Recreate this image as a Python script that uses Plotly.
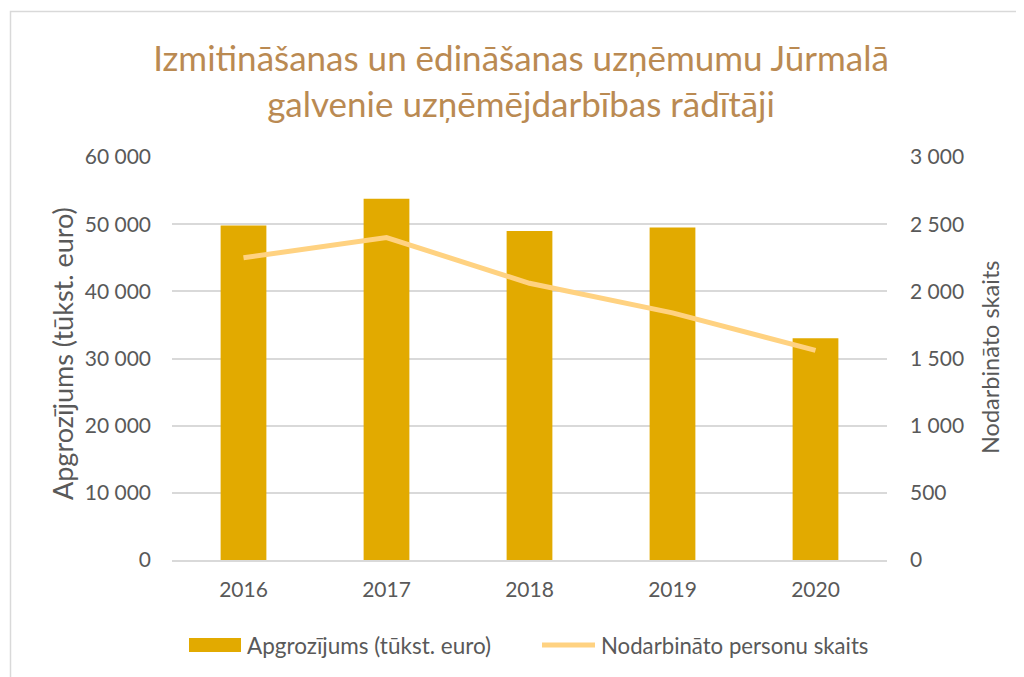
import plotly.graph_objects as go

years = ["2016", "2017", "2018", "2019", "2020"]
turnover = [49800, 53800, 49000, 49500, 33000]
employees = [2250, 2400, 2060, 1840, 1560]

title_text = "Izmitināšanas un ēdināšanas uzņēmumu Jūrmalā<br>galvenie uzņēmējdarbības rādītāji"
bar_name = "Apgrozījums (tūkst. euro)"
line_name = "Nodarbināto personu skaits"
left_title = "Apgrozījums (tūkst. euro)"
right_title = "Nodarbināto skaits"

FONT = "Lato"
TXT = "#595959"
GRID = "#d9d9d9"
BAR_C = "#E2AA00"
LINE_C = "#FFD281"

# plot area in layout px (page has 8px body margin)
L, T, W, H = 164, 149, 715, 403
B = T + H


def px(x):
    return (x - L) / W


def py(y):
    return (B - y) / H


fig = go.Figure()
fig.add_trace(go.Bar(x=years, y=turnover, name=bar_name, marker=dict(color=BAR_C, line=dict(width=0)),
                     yaxis="y", showlegend=False))
fig.add_trace(go.Scatter(x=years, y=employees, name=line_name, mode="lines",
                         line=dict(color=LINE_C, width=5), yaxis="y2", showlegend=False))

fig.update_layout(
    width=1024, height=677,
    margin=dict(l=L, r=1024 - L - W, t=T, b=677 - B),
    paper_bgcolor="white", plot_bgcolor="white",
    separators=", ",
    font=dict(family=FONT, color=TXT, size=21),
    bargap=0.68,
    title=dict(text=title_text, x=0.501, xanchor="center", y=1 - 63 / 677, yanchor="middle",
               font=dict(family=FONT, size=35, color="#BA8A52")),
    xaxis=dict(showgrid=False, showline=True, linecolor=GRID, linewidth=1.5, ticks="",
               ticklabelstandoff=10, tickfont=dict(size=21, color=TXT)),
    yaxis=dict(range=[0, 60000], dtick=10000, tickformat=",d", showgrid=True, gridcolor=GRID,
               gridwidth=1.5, zeroline=False, showline=False, ticks="", ticklabelstandoff=20,
               tickfont=dict(size=21, color=TXT)),
    yaxis2=dict(range=[0, 3000], dtick=500, tickformat=",d", overlaying="y", side="right",
                showgrid=False, zeroline=False, showline=False, ticks="", ticklabelstandoff=22,
                tickfont=dict(size=21, color=TXT)),
    showlegend=False,
)

# axis titles
fig.add_annotation(text=left_title, xref="paper", yref="paper", x=px(54), y=py(346),
                   textangle=-90, showarrow=False, xanchor="center", yanchor="middle",
                   font=dict(size=27, color=TXT, family=FONT))
fig.add_annotation(text=right_title, xref="paper", yref="paper", x=px(982), y=py(350),
                   textangle=-90, showarrow=False, xanchor="center", yanchor="middle",
                   font=dict(size=23.5, color=TXT, family=FONT))

# custom legend
fig.add_shape(type="rect", xref="paper", yref="paper", x0=px(181), x1=px(233), y0=py(644), y1=py(630),
              line=dict(width=0), fillcolor=BAR_C)
fig.add_annotation(text=bar_name, xref="paper", yref="paper", x=px(237), y=py(637),
                   showarrow=False, xanchor="left", yanchor="middle",
                   font=dict(size=22.5, color=TXT, family=FONT))
fig.add_shape(type="line", xref="paper", yref="paper", x0=px(534), x1=px(587), y0=py(637), y1=py(637),
              line=dict(width=5, color=LINE_C))
fig.add_annotation(text=line_name, xref="paper", yref="paper", x=px(591), y=py(637),
                   showarrow=False, xanchor="left", yanchor="middle",
                   font=dict(size=22.2, color=TXT, family=FONT))

# chart border
fig.add_shape(type="rect", xref="paper", yref="paper",
              x0=px(2.5), x1=px(1040), y0=py(700), y1=py(3.5),
              line=dict(color="#d9d9d9", width=1.5), fillcolor="rgba(0,0,0,0)", layer="below")

fig.write_html("out.html")
